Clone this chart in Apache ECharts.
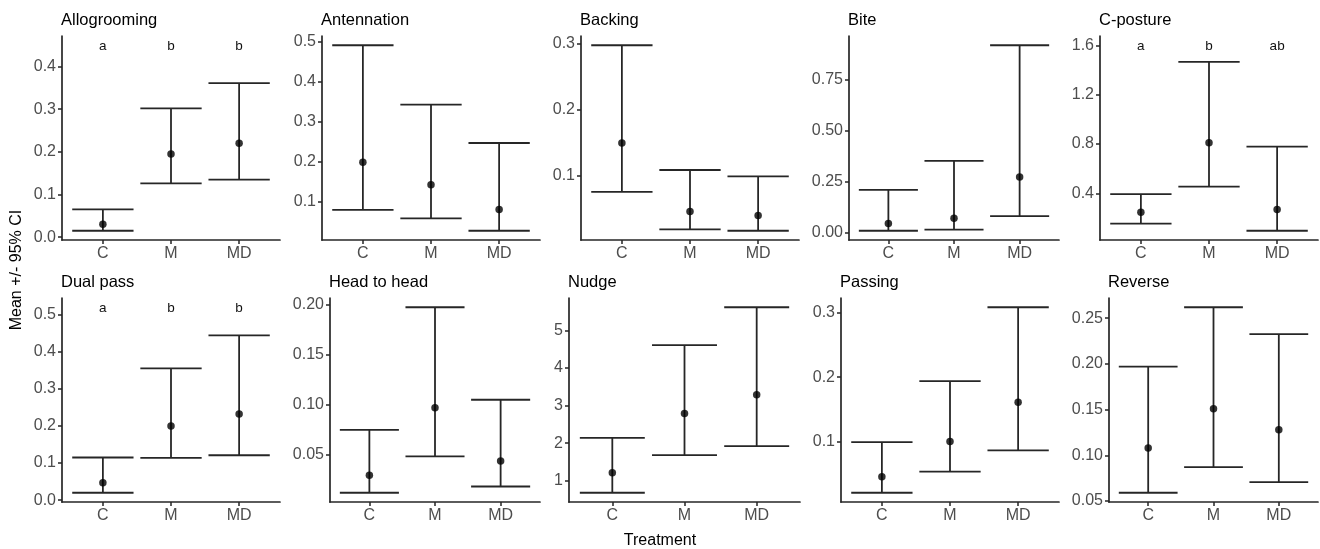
<!DOCTYPE html>
<html>
<head>
<meta charset="utf-8">
<script src="https://cdn.jsdelivr.net/npm/echarts@6/dist/echarts.min.js"></script>
<style>
  html, body { margin: 0; padding: 0; background: #fff; }
  #chart { width: 1320px; height: 549px; }
</style>
</head>
<body>
<div id="chart"></div>
<script>
const treatments = ['C', 'M', 'MD'];
const behaviours = ['Allogrooming', 'Antennation', 'Backing', 'Bite', 'C-posture',
  'Dual pass', 'Head to head', 'Nudge', 'Passing', 'Reverse'];

// mean per treatment (C, M, MD)
const meanValues = [
  [0.030, 0.195, 0.220],
  [0.198, 0.142, 0.080],
  [0.150, 0.046, 0.040],
  [0.044, 0.069, 0.273],
  [0.246, 0.810, 0.270],
  [0.047, 0.200, 0.232],
  [0.030, 0.097, 0.044],
  [1.21, 2.79, 3.29],
  [0.045, 0.100, 0.161],
  [0.108, 0.151, 0.128]
];
// 95% CI bounds
const lowerCI = [
  [0.015, 0.126, 0.135],
  [0.079, 0.058, 0.027],
  [0.076, 0.019, 0.017],
  [0.008, 0.013, 0.080],
  [0.154, 0.454, 0.097],
  [0.020, 0.114, 0.121],
  [0.0125, 0.0486, 0.0187],
  [0.68, 1.68, 1.92],
  [0.020, 0.053, 0.086],
  [0.059, 0.087, 0.0705]
];
const upperCI = [
  [0.065, 0.302, 0.361],
  [0.490, 0.342, 0.246],
  [0.298, 0.109, 0.0995],
  [0.209, 0.352, 0.921],
  [0.394, 1.465, 0.778],
  [0.115, 0.355, 0.444],
  [0.075, 0.197, 0.105],
  [2.14, 4.61, 5.62],
  [0.099, 0.194, 0.309],
  [0.197, 0.262, 0.2325]
];
// significance letters and the height they sit at
const sigLetters = [['a', 'b', 'b'], null, null, null, ['a', 'b', 'ab'],
  ['a', 'b', 'b'], null, null, null, null];
const letterY = [0.45, null, null, null, 1.6, 0.52, null, null, null, null];

const yTickLabels = [
  ['0.0', '0.1', '0.2', '0.3', '0.4'],
  ['0.1', '0.2', '0.3', '0.4', '0.5'],
  ['0.1', '0.2', '0.3'],
  ['0.00', '0.25', '0.50', '0.75'],
  ['0.4', '0.8', '1.2', '1.6'],
  ['0.0', '0.1', '0.2', '0.3', '0.4', '0.5'],
  ['0.05', '0.10', '0.15', '0.20'],
  ['1', '2', '3', '4', '5'],
  ['0.1', '0.2', '0.3'],
  ['0.05', '0.10', '0.15', '0.20', '0.25']
];

// panel placement (px)
const panelLeft = [62, 322, 581, 849, 1100, 62, 330, 569, 841, 1109];
const panelWidth = [218, 218, 218, 210, 218, 218, 210, 231, 218, 209];
const rowTop = [36, 298];
const panelHeight = 204;

const FONT = '"Liberation Sans", Arial, sans-serif';
const LINE = '#262626';
const TEXT_GREY = '#4d4d4d';

const chart = echarts.init(document.getElementById('chart'), null, { renderer: 'canvas' });

const grids = [], xAxes = [], yAxes = [], series = [], titles = [];

behaviours.forEach((name, i) => {
  const top = rowTop[Math.floor(i / 5)];
  grids.push({ left: panelLeft[i], top: top, width: panelWidth[i], height: panelHeight });

  // ggplot style range: data (+ letters) expanded 5% each side
  let lo = Math.min(...lowerCI[i]);
  let hi = Math.max(...upperCI[i]);
  if (letterY[i] != null) hi = Math.max(hi, letterY[i]);
  const pad = (hi - lo) * 0.05;
  const ticks = yTickLabels[i].map(Number);

  titles.push({
    text: name,
    left: panelLeft[i] - 1,
    top: top - 24,
    padding: 0,
    textStyle: { fontFamily: FONT, fontSize: 16.5, fontWeight: 'normal', color: '#000' }
  });

  xAxes.push({
    gridIndex: i,
    type: 'value',
    min: 0.4,
    max: 3.6,
    splitLine: { show: false },
    axisLine: { onZero: false, lineStyle: { color: LINE, width: 1.7 } },
    axisTick: { customValues: [1, 2, 3], length: 4, lineStyle: { color: LINE, width: 1.5 } },
    axisLabel: {
      customValues: [1, 2, 3],
      formatter: v => treatments[Math.round(v) - 1],
      fontFamily: FONT, fontSize: 16, color: TEXT_GREY, margin: 6
    }
  });

  yAxes.push({
    gridIndex: i,
    type: 'value',
    min: lo - pad,
    max: hi + pad,
    splitLine: { show: false },
    axisLine: { show: true, onZero: false, lineStyle: { color: LINE, width: 1.7 } },
    axisTick: { show: true, customValues: ticks, length: 4, lineStyle: { color: LINE, width: 1.5 } },
    axisLabel: {
      customValues: ticks,
      formatter: v => {
        const k = ticks.findIndex(t => Math.abs(t - v) < 1e-9);
        return k >= 0 ? yTickLabels[i][k] : '';
      },
      fontFamily: FONT, fontSize: 16, color: TEXT_GREY, margin: 6
    }
  });

  const barData = treatments.map((t, j) => [j + 1, lowerCI[i][j], upperCI[i][j]]);
  series.push({
    type: 'custom',
    xAxisIndex: i,
    yAxisIndex: i,
    data: barData,
    silent: true,
    z: 2,
    renderItem: (params, api) => {
      const x = api.value(0);
      const pLo = api.coord([x, api.value(1)]);
      const pHi = api.coord([x, api.value(2)]);
      const half = api.size([0.9, 0])[0] / 2;
      const style = { stroke: LINE, lineWidth: 1.8 };
      return {
        type: 'group',
        children: [
          { type: 'line', shape: { x1: pLo[0], y1: pLo[1], x2: pHi[0], y2: pHi[1] }, style },
          { type: 'line', shape: { x1: pHi[0] - half, y1: pHi[1], x2: pHi[0] + half, y2: pHi[1] }, style },
          { type: 'line', shape: { x1: pLo[0] - half, y1: pLo[1], x2: pLo[0] + half, y2: pLo[1] }, style }
        ]
      };
    }
  });

  series.push({
    type: 'scatter',
    xAxisIndex: i,
    yAxisIndex: i,
    data: treatments.map((t, j) => [j + 1, meanValues[i][j]]),
    symbol: 'circle',
    symbolSize: 7.5,
    itemStyle: { color: '#000' },
    silent: true,
    z: 3
  });

  if (sigLetters[i]) {
    series.push({
      type: 'custom',
      xAxisIndex: i,
      yAxisIndex: i,
      data: sigLetters[i].map((l, j) => [j + 1, letterY[i], l]),
      silent: true,
      z: 4,
      renderItem: (params, api) => {
        const p = api.coord([api.value(0), api.value(1)]);
        return {
          type: 'text',
          style: {
            text: sigLetters[i][params.dataIndex],
            x: p[0], y: p[1] + 1,
            align: 'center', verticalAlign: 'middle',
            font: '13.5px ' + FONT,
            fill: '#111'
          }
        };
      }
    });
  }
});

const option = {
  animation: false,
  backgroundColor: '#fff',
  title: titles,
  grid: grids,
  xAxis: xAxes,
  yAxis: yAxes,
  series: series,
  graphic: [
    {
      type: 'text',
      left: 'center',
      top: 533,
      style: { text: 'Treatment', font: '16px ' + FONT, fill: '#000' }
    },
    {
      type: 'text',
      x: 9,
      y: 270,
      rotation: Math.PI / 2,
      style: { text: 'Mean +/- 95% CI', font: '16px ' + FONT, fill: '#000', align: 'center', verticalAlign: 'top' }
    }
  ]
};

chart.setOption(option);
</script>
</body>
</html>
